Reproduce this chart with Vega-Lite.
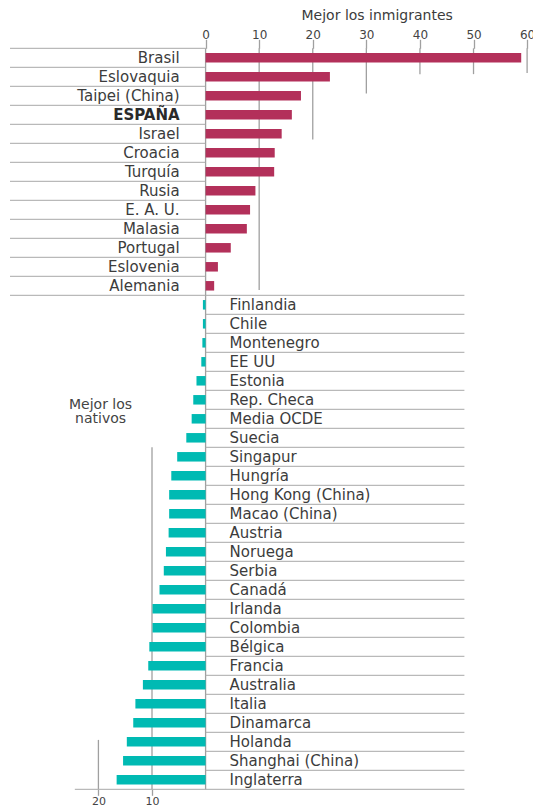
{
  "$schema": "https://vega.github.io/schema/vega-lite/v6.json",
  "width": 523,
  "height": 741,
  "autosize": {"type": "none"},
  "padding": {"left": 10, "top": 48.3, "right": 0, "bottom": 17.7},
  "background": "white",
  "config": {"view": {"stroke": null}, "font": "DejaVu Sans"},
  "datasets": {
    "rows": [
      {"country": "Brasil", "value": 58.9},
      {"country": "Eslovaquia", "value": 23.2},
      {"country": "Taipei (China)", "value": 17.8},
      {"country": "ESPAÑA", "value": 16.1},
      {"country": "Israel", "value": 14.2},
      {"country": "Croacia", "value": 12.9},
      {"country": "Turquía", "value": 12.8},
      {"country": "Rusia", "value": 9.3},
      {"country": "E. A. U.", "value": 8.3},
      {"country": "Malasia", "value": 7.7},
      {"country": "Portugal", "value": 4.7},
      {"country": "Eslovenia", "value": 2.3},
      {"country": "Alemania", "value": 1.6},
      {"country": "Finlandia", "value": -0.5},
      {"country": "Chile", "value": -0.5},
      {"country": "Montenegro", "value": -0.6},
      {"country": "EE UU", "value": -0.8},
      {"country": "Estonia", "value": -1.7},
      {"country": "Rep. Checa", "value": -2.3},
      {"country": "Media OCDE", "value": -2.6},
      {"country": "Suecia", "value": -3.6},
      {"country": "Singapur", "value": -5.3},
      {"country": "Hungría", "value": -6.4},
      {"country": "Hong Kong (China)", "value": -6.8},
      {"country": "Macao (China)", "value": -6.8},
      {"country": "Austria", "value": -6.9},
      {"country": "Noruega", "value": -7.4},
      {"country": "Serbia", "value": -7.8},
      {"country": "Canadá", "value": -8.6},
      {"country": "Irlanda", "value": -9.9},
      {"country": "Colombia", "value": -9.9},
      {"country": "Bélgica", "value": -10.5},
      {"country": "Francia", "value": -10.7},
      {"country": "Australia", "value": -11.7},
      {"country": "Italia", "value": -13.1},
      {"country": "Dinamarca", "value": -13.5},
      {"country": "Holanda", "value": -14.7},
      {"country": "Shanghai (China)", "value": -15.4},
      {"country": "Inglaterra", "value": -16.6}
    ],
    "grid": [
      {"at": 0, "from": 0, "to": 39},
      {"at": 10, "from": 0, "to": 12.72},
      {"at": 20, "from": 0, "to": 4.8},
      {"at": 30, "from": 0, "to": 2.38},
      {"at": 40, "from": 0, "to": 1.36},
      {"at": 50, "from": 0, "to": 1.36},
      {"at": 60, "from": 0, "to": 1.3},
      {"at": -10, "from": 21, "to": 39},
      {"at": -20, "from": 36.4, "to": 39}
    ],
    "note": [{"text": "Mejor los\nnativos"}]
  },
  "resolve": {"scale": {"y": "independent"}, "axis": {"x": "independent"}},
  "layer": [
    {
      "layer": [
        {
          "data": {"name": "grid"},
          "mark": {"type": "rule", "color": "#a0a0a0", "strokeWidth": 1.3},
          "encoding": {
            "x": {
              "field": "at", "type": "quantitative",
              "scale": {"domain": [-36.5, 61.1], "nice": false, "zero": false},
              "axis": {
                "orient": "top", "values": [0, 10, 20, 30, 40, 50, 60],
                "domain": false, "grid": false, "ticks": true, "tickSize": 9,
                "tickColor": "#a0a0a0", "tickWidth": 1.3,
                "labelFont": "DejaVu Sans", "labelFontSize": 12, "labelColor": "#444",
                "labelPadding": 1, "labelBaseline": "alphabetic", "labelFlush": false, "labelOverlap": false,
                "title": "Mejor los inmigrantes", "titleFont": "DejaVu Sans", "titleFontSize": 14,
                "titleFontWeight": "normal", "titleColor": "#3c3c3c",
                "titleX": 366.7, "titleY": -28.6, "titleBaseline": "alphabetic", "titleAlign": "center"
              }
            },
            "y": {
              "field": "from", "type": "quantitative",
              "scale": {"domain": [0, 39], "reverse": true, "nice": false, "zero": false},
              "axis": null
            },
            "y2": {"field": "to"}
          }
        },
        {
          "data": {"name": "note"},
          "mark": {"type": "text", "font": "DejaVu Sans", "fontSize": 14, "color": "#444", "align": "center", "baseline": "middle", "lineBreak": "\n", "lineHeight": 14.5},
          "encoding": {
            "x": {"datum": -19.6, "type": "quantitative"},
            "y": {"datum": 18.75, "type": "quantitative"},
            "text": {"field": "text"}
          }
        }
      ]
    },
    {
      "data": {"name": "rows"},
      "encoding": {
        "y": {
          "field": "country", "type": "nominal", "sort": null,
          "scale": {"domain": ["Brasil", "Eslovaquia", "Taipei (China)", "ESPAÑA", "Israel", "Croacia", "Turquía", "Rusia", "E. A. U.", "Malasia", "Portugal", "Eslovenia", "Alemania", "Finlandia", "Chile", "Montenegro", "EE UU", "Estonia", "Rep. Checa", "Media OCDE", "Suecia", "Singapur", "Hungría", "Hong Kong (China)", "Macao (China)", "Austria", "Noruega", "Serbia", "Canadá", "Irlanda", "Colombia", "Bélgica", "Francia", "Australia", "Italia", "Dinamarca", "Holanda", "Shanghai (China)", "Inglaterra"], "paddingInner": 0, "paddingOuter": 0},
          "axis": null
        }
      },
      "layer": [
        {
          "transform": [{"filter": "datum.value > 0"}],
          "mark": {"type": "rule", "color": "#a8a8a8", "strokeWidth": 1},
          "encoding": {
            "y": {"field": "country", "type": "nominal", "sort": null, "bandPosition": 0,
              "scale": {"domain": ["Brasil", "Eslovaquia", "Taipei (China)", "ESPAÑA", "Israel", "Croacia", "Turquía", "Rusia", "E. A. U.", "Malasia", "Portugal", "Eslovenia", "Alemania", "Finlandia", "Chile", "Montenegro", "EE UU", "Estonia", "Rep. Checa", "Media OCDE", "Suecia", "Singapur", "Hungría", "Hong Kong (China)", "Macao (China)", "Austria", "Noruega", "Serbia", "Canadá", "Irlanda", "Colombia", "Bélgica", "Francia", "Australia", "Italia", "Dinamarca", "Holanda", "Shanghai (China)", "Inglaterra"], "paddingInner": 0, "paddingOuter": 0},
              "axis": null},
            "x": {"datum": -36.5, "type": "quantitative"},
            "x2": {"datum": 0}
          }
        },
        {
          "transform": [{"filter": "datum.value < 0"}],
          "mark": {"type": "rule", "color": "#a8a8a8", "strokeWidth": 1},
          "encoding": {
            "y": {"field": "country", "type": "nominal", "sort": null, "bandPosition": 0,
              "scale": {"domain": ["Brasil", "Eslovaquia", "Taipei (China)", "ESPAÑA", "Israel", "Croacia", "Turquía", "Rusia", "E. A. U.", "Malasia", "Portugal", "Eslovenia", "Alemania", "Finlandia", "Chile", "Montenegro", "EE UU", "Estonia", "Rep. Checa", "Media OCDE", "Suecia", "Singapur", "Hungría", "Hong Kong (China)", "Macao (China)", "Austria", "Noruega", "Serbia", "Canadá", "Irlanda", "Colombia", "Bélgica", "Francia", "Australia", "Italia", "Dinamarca", "Holanda", "Shanghai (China)", "Inglaterra"], "paddingInner": 0, "paddingOuter": 0},
              "axis": null},
            "x": {"datum": 0, "type": "quantitative"},
            "x2": {"datum": 48.3}
          }
        },
        {
          "transform": [{"filter": "datum.country === 'Finlandia'"}],
          "mark": {"type": "rule", "color": "#a8a8a8", "strokeWidth": 1},
          "encoding": {
            "y": {"field": "country", "type": "nominal", "sort": null, "bandPosition": 0,
              "scale": {"domain": ["Brasil", "Eslovaquia", "Taipei (China)", "ESPAÑA", "Israel", "Croacia", "Turquía", "Rusia", "E. A. U.", "Malasia", "Portugal", "Eslovenia", "Alemania", "Finlandia", "Chile", "Montenegro", "EE UU", "Estonia", "Rep. Checa", "Media OCDE", "Suecia", "Singapur", "Hungría", "Hong Kong (China)", "Macao (China)", "Austria", "Noruega", "Serbia", "Canadá", "Irlanda", "Colombia", "Bélgica", "Francia", "Australia", "Italia", "Dinamarca", "Holanda", "Shanghai (China)", "Inglaterra"], "paddingInner": 0, "paddingOuter": 0},
              "axis": null},
            "x": {"datum": -36.5, "type": "quantitative"},
            "x2": {"datum": 0}
          }
        },
        {
          "transform": [{"filter": "datum.country === 'Inglaterra'"}],
          "mark": {"type": "rule", "color": "#a8a8a8", "strokeWidth": 1},
          "encoding": {
            "y": {"field": "country", "type": "nominal", "sort": null, "bandPosition": 1,
              "scale": {"domain": ["Brasil", "Eslovaquia", "Taipei (China)", "ESPAÑA", "Israel", "Croacia", "Turquía", "Rusia", "E. A. U.", "Malasia", "Portugal", "Eslovenia", "Alemania", "Finlandia", "Chile", "Montenegro", "EE UU", "Estonia", "Rep. Checa", "Media OCDE", "Suecia", "Singapur", "Hungría", "Hong Kong (China)", "Macao (China)", "Austria", "Noruega", "Serbia", "Canadá", "Irlanda", "Colombia", "Bélgica", "Francia", "Australia", "Italia", "Dinamarca", "Holanda", "Shanghai (China)", "Inglaterra"], "paddingInner": 0, "paddingOuter": 0},
              "axis": null},
            "x": {"datum": -24.4, "type": "quantitative"},
            "x2": {"datum": 48.3}
          }
        },
        {
          "mark": {"type": "bar", "height": 9.5},
          "encoding": {
            "x": {
              "field": "value", "type": "quantitative",
              "scale": {"domain": [-36.5, 61.1], "nice": false, "zero": false},
              "axis": {
                "orient": "bottom", "values": [-20, -10], "domain": false, "grid": false,
                "ticks": true, "tickSize": 6, "tickColor": "#a0a0a0", "tickWidth": 1.3,
                "labelFont": "DejaVu Sans", "labelFontSize": 11, "labelColor": "#444",
                "labelPadding": 0, "labelFlush": false, "labelOverlap": false,
                "labelExpr": "abs(datum.value)", "title": null
              }
            },
            "x2": {"datum": 0},
            "color": {"condition": {"test": "datum.value > 0", "value": "#B3305A"}, "value": "#00BAB3"}
          }
        },
        {
          "transform": [{"filter": "datum.value > 0 && datum.country !== 'ESPAÑA'"}],
          "mark": {"type": "text", "font": "DejaVu Sans", "fontSize": 15, "color": "#3c3c3c", "align": "right", "baseline": "middle", "dx": -26},
          "encoding": {
            "x": {"datum": 0, "type": "quantitative"},
            "text": {"field": "country"}
          }
        },
        {
          "transform": [{"filter": "datum.country === 'ESPAÑA'"}],
          "mark": {"type": "text", "font": "DejaVu Sans", "fontSize": 15, "fontWeight": "bold", "color": "#2a2a2a", "align": "right", "baseline": "middle", "dx": -26},
          "encoding": {
            "x": {"datum": 0, "type": "quantitative"},
            "text": {"field": "country"}
          }
        },
        {
          "transform": [{"filter": "datum.value < 0"}],
          "mark": {"type": "text", "font": "DejaVu Sans", "fontSize": 15, "color": "#3c3c3c", "align": "left", "baseline": "middle", "dx": 24},
          "encoding": {
            "x": {"datum": 0, "type": "quantitative"},
            "text": {"field": "country"}
          }
        }
      ]
    }
  ]
}
